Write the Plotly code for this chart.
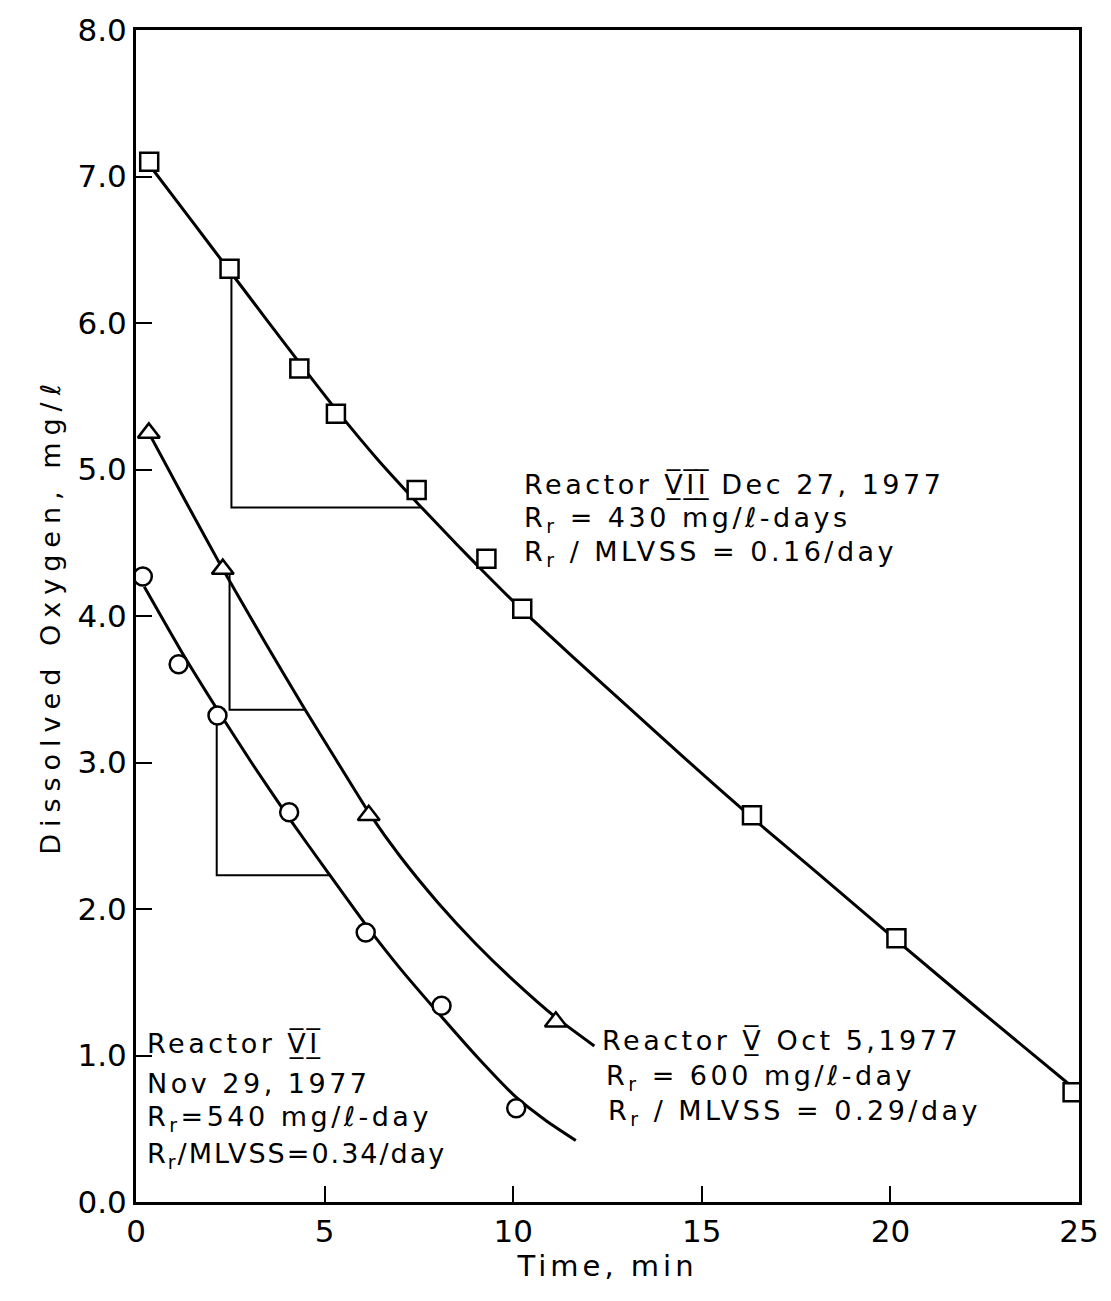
import plotly.graph_objects as go

# ---- data ----
# Reactor VII (squares)
vii_t = [0.35, 2.48, 4.33, 5.30, 7.44, 9.29, 10.24, 16.33, 20.16, 24.83]
vii_do = [7.10, 6.37, 5.69, 5.38, 4.86, 4.39, 4.05, 2.64, 1.80, 0.75]
vii_fit_t = [0.35, 1.5, 2.5, 3.5, 4.3, 5.3, 6.4, 7.5, 8.5, 9.3, 10.2, 11.5, 13.0,
             14.5, 16.3, 18.0, 20.1, 22.5, 24.85]
vii_fit_do = [7.08, 6.69, 6.35, 6.01, 5.74, 5.41, 5.07, 4.76, 4.49, 4.28, 4.05, 3.74, 3.39,
              3.04, 2.63, 2.26, 1.80, 1.28, 0.78]

# Reactor V (triangles)
v_t = [0.34, 2.30, 6.17, 11.13]
v_do = [5.25, 4.32, 2.64, 1.23]
v_fit_t = [0.34, 1.3, 2.3, 3.4, 4.46, 5.3, 6.17, 7.0, 8.0, 9.0, 10.0, 11.13, 12.15]
v_fit_do = [5.25, 4.79, 4.32, 3.83, 3.37, 3.02, 2.66, 2.36, 2.045, 1.765, 1.515, 1.26, 1.065]

# Reactor VI (circles)
vi_t = [0.18, 1.13, 2.16, 4.06, 6.09, 8.10, 10.08]
vi_do = [4.27, 3.67, 3.32, 2.66, 1.84, 1.34, 0.64]
vi_fit_t = [0.22, 1.2, 2.16, 3.1, 4.1, 5.1, 6.1, 7.0, 8.1, 9.1, 10.1, 10.9, 11.66]
vi_fit_do = [4.20, 3.76, 3.36, 2.985, 2.605, 2.245, 1.89, 1.595, 1.265, 0.975, 0.71, 0.55, 0.42]

# slope construction triangles
slope_vii_t = [2.53, 2.53, 7.55]
slope_vii_do = [6.37, 4.74, 4.74]
slope_v_t = [2.48, 2.48, 4.46]
slope_v_do = [4.32, 3.36, 3.36]
slope_vi_t = [2.14, 2.14, 5.12]
slope_vi_do = [3.32, 2.23, 2.23]

x_ticks = [0, 5, 10, 15, 20, 25]
y_ticks = [0, 1, 2, 3, 4, 5, 6, 7, 8]

FONT = "DejaVu Sans"
BLACK = "black"

fig = go.Figure()

for tx, ty in [(vii_fit_t, vii_fit_do), (v_fit_t, v_fit_do), (vi_fit_t, vi_fit_do)]:
    fig.add_trace(go.Scatter(x=tx, y=ty, mode="lines",
                             line=dict(color=BLACK, width=3, shape="spline", smoothing=0.5),
                             showlegend=False, hoverinfo="skip"))

for tx, ty in [(slope_vii_t, slope_vii_do), (slope_v_t, slope_v_do), (slope_vi_t, slope_vi_do)]:
    fig.add_trace(go.Scatter(x=tx, y=ty, mode="lines",
                             line=dict(color=BLACK, width=2),
                             showlegend=False, hoverinfo="skip"))

fig.add_trace(go.Scatter(x=vii_t, y=vii_do, mode="markers", showlegend=False,
                         marker=dict(symbol="square", size=18, color="white",
                                     line=dict(color=BLACK, width=2.5))))
fig.add_trace(go.Scatter(x=v_t, y=v_do, mode="markers", showlegend=False,
                         marker=dict(symbol="triangle-up", size=19, color="white",
                                     line=dict(color=BLACK, width=2.5))))
fig.add_trace(go.Scatter(x=vi_t, y=vi_do, mode="markers", showlegend=False,
                         marker=dict(symbol="circle", size=18, color="white",
                                     line=dict(color=BLACK, width=2.5))))

OL = "\u0332\u0305"
def roman(s):
    return "".join(ch + OL for ch in s)

def sp(txt, ls=3.5):
    return f'<span style="letter-spacing:{ls}px">{txt}</span>'

def rr():
    return "R<sub>r</sub>"

labels = [
    # Reactor VII block
    (10.24, 4.90, sp(f"Reactor {roman('VII')} Dec 27, 1977")),
    (10.24, 4.66, sp(f"{rr()} = 430 mg/\u2113-days")),
    (10.24, 4.43, sp(f"{rr()} / MLVSS = 0.16/day")),
    # Reactor V block
    (12.30, 1.10, sp(f"Reactor {roman('V')} Oct 5,1977")),
    (12.40, 0.85, sp(f"{rr()} = 600 mg/\u2113-day")),
    (12.45, 0.61, sp(f"{rr()} / MLVSS = 0.29/day")),
    # Reactor VI block
    (0.24, 1.085, sp(f"Reactor {roman('VI')}")),
    (0.24, 0.81, sp("Nov 29, 1977")),
    (0.24, 0.57, sp(f"{rr()}=540 mg/\u2113-day")),
    (0.24, 0.32, sp(f"{rr()}/MLVSS=0.34/day", 2)),
]
for x, y, txt in labels:
    fig.add_annotation(x=x, y=y, xref="x", yref="y", text=txt, showarrow=False,
                       xanchor="left", yanchor="middle", align="left",
                       font=dict(family=FONT, size=27, color=BLACK))

axis_common = dict(showgrid=False, zeroline=False, showline=True, linecolor=BLACK,
                   linewidth=3, mirror=True, ticks="inside", ticklen=16, tickwidth=2,
                   tickcolor=BLACK, tickfont=dict(family=FONT, size=31, color=BLACK))

fig.update_xaxes(range=[0, 25], tickvals=x_ticks, ticktext=[str(v) for v in x_ticks],
                 title=dict(text=sp("Time, min", 4), font=dict(family=FONT, size=29, color=BLACK),
                            standoff=8),
                 **axis_common)
fig.update_yaxes(range=[0, 8], tickvals=y_ticks, ticktext=[f"{v:.1f}" for v in y_ticks],
                 title=dict(text=sp("Dissolved Oxygen, mg/\u2113", 7),
                            font=dict(family=FONT, size=27, color=BLACK), standoff=10),
                 **axis_common)

fig.update_layout(width=1111, height=1301,
                  margin=dict(l=136, r=28, t=22, b=99),
                  paper_bgcolor="white", plot_bgcolor="white",
                  font=dict(family=FONT, color=BLACK))

fig.write_html("out.html")
